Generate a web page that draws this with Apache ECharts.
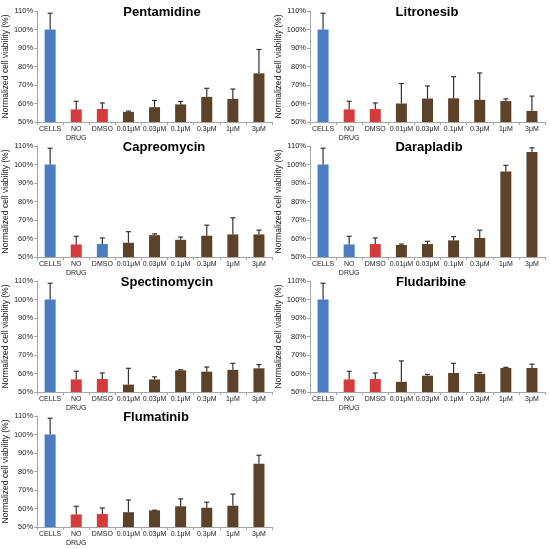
<!DOCTYPE html>
<html>
<head>
<meta charset="utf-8">
<script src="https://cdn.jsdelivr.net/npm/echarts@6/dist/echarts.min.js"></script>
<style>
html,body{margin:0;padding:0;background:#fff;}
#c{width:550px;height:549px;}
</style>
</head>
<body>
<div id="c"></div>
<script>
// ---------- data ----------
var categories = ['CELLS', 'NO\nDRUG', 'DMSO', '0.01μM', '0.03μM', '0.1μM', '0.3μM', '1μM', '3μM'];
var yTicks = [50, 60, 70, 80, 90, 100, 110];

var panelNames = ['Pentamidine', 'Litronesib', 'Capreomycin', 'Darapladib', 'Spectinomycin', 'Fludaribine', 'Flumatinib'];

// mean values (%)
var pentamidineMean   = [100, 56.8, 57.0, 55.5, 58.0, 59.5, 63.6, 62.5, 76.3];
var litronesibMean    = [100, 56.8, 57.0, 60.0, 62.7, 62.8, 62.0, 61.3, 56.0];
var capreomycinMean   = [100, 56.8, 57.0, 57.7, 61.8, 59.3, 61.5, 62.2, 62.2];
var darapladibMean    = [100, 56.8, 57.0, 56.5, 57.0, 59.0, 60.3, 96.2, 106.8];
var spectinomycinMean = [100, 56.8, 57.0, 54.0, 56.8, 61.7, 61.0, 62.0, 62.8];
var fludaribineMean   = [100, 56.8, 57.0, 55.5, 58.8, 60.3, 59.8, 63.0, 63.0];
var flumatinibMean    = [100, 56.8, 57.0, 58.0, 59.0, 61.2, 60.4, 61.5, 84.2];

// top of error bar (%)
var pentamidineErrTop   = [108.8, 61.2, 60.3, 55.9, 61.6, 61.1, 68.2, 67.8, 89.2];
var litronesibErrTop    = [108.8, 61.2, 60.3, 70.8, 69.5, 74.5, 76.5, 62.5, 64.0];
var capreomycinErrTop   = [108.8, 61.2, 60.3, 63.7, 62.5, 60.8, 67.2, 71.2, 64.5];
var darapladibErrTop    = [108.8, 61.2, 60.3, 57.0, 58.5, 61.0, 64.5, 99.5, 109.0];
var spectinomycinErrTop = [108.8, 61.2, 60.3, 62.8, 58.2, 62.0, 63.5, 65.5, 64.8];
var fludaribineErrTop   = [108.8, 61.2, 60.3, 66.8, 59.5, 65.5, 60.5, 63.3, 65.0];
var flumatinibErrTop    = [108.8, 61.2, 60.3, 64.6, 59.1, 65.2, 63.4, 67.8, 88.8];

// bar group per category (C = cells group, N = no drug group, D = drug)
var pentamidineGroups   = ['C','N','N','D','D','D','D','D','D'];
var litronesibGroups    = ['C','N','N','D','D','D','D','D','D'];
var capreomycinGroups   = ['C','N','C','D','D','D','D','D','D'];
var darapladibGroups    = ['C','C','N','D','D','D','D','D','D'];
var spectinomycinGroups = ['C','N','N','D','D','D','D','D','D'];
var fludaribineGroups   = ['C','N','N','D','D','D','D','D','D'];
var flumatinibGroups    = ['C','N','N','D','D','D','D','D','D'];

var means   = [pentamidineMean, litronesibMean, capreomycinMean, darapladibMean, spectinomycinMean, fludaribineMean, flumatinibMean];
var errTops = [pentamidineErrTop, litronesibErrTop, capreomycinErrTop, darapladibErrTop, spectinomycinErrTop, fludaribineErrTop, flumatinibErrTop];
var groups  = [pentamidineGroups, litronesibGroups, capreomycinGroups, darapladibGroups, spectinomycinGroups, fludaribineGroups, flumatinibGroups];

// ---------- styles / layout ----------
var groupColor = { C: '#4a7dc1', N: '#d43b3a', D: '#5d422a' };
var FONT = 'Liberation Sans, Arial, Helvetica, sans-serif';
var colLeft = [37, 310];
var plotWidth = 235;
var rowTop = [11, 146, 281, 416];
var plotHeight = 111;
var titleX = [157, 422, 159, 424, 162, 426, 151];

var grids = [], xAxes = [], yAxes = [], series = [], titles = [];

for (var p = 0; p < panelNames.length; p++) {
  var col = p % 2, row = Math.floor(p / 2);
  grids.push({ left: colLeft[col], top: rowTop[row], width: plotWidth, height: plotHeight, containLabel: false });
  titles.push({
    text: panelNames[p], left: titleX[p], top: rowTop[row] - 10, textAlign: 'center',
    textStyle: { fontFamily: FONT, fontSize: 13, fontWeight: 'bold', color: '#000' }
  });
  xAxes.push({
    type: 'category', gridIndex: p, data: categories, boundaryGap: true,
    axisLine: { show: true, lineStyle: { color: '#a6a6a6', width: 1 } },
    axisTick: { show: true, interval: 0, length: 3, lineStyle: { color: '#a6a6a6' } },
    axisLabel: { interval: 0, margin: 3, fontFamily: FONT, fontSize: 7, color: '#222', lineHeight: 8.5 }
  });
  yAxes.push({
    type: 'value', gridIndex: p, min: yTicks[0], max: yTicks[yTicks.length - 1], interval: 10,
    name: 'Normalized cell viability (%)', nameLocation: 'middle', nameGap: 24,
    nameTextStyle: { fontFamily: FONT, fontSize: 8.5, color: '#222' },
    axisLine: { show: true, lineStyle: { color: '#a6a6a6', width: 1 } },
    axisTick: { show: true, length: 3, lineStyle: { color: '#a6a6a6' } },
    splitLine: { show: false },
    axisLabel: { formatter: '{value}%', margin: 4, fontFamily: FONT, fontSize: 7.5, color: '#222' }
  });
  var barData = means[p].map(function (v, i) {
    return { value: v, itemStyle: { color: groupColor[groups[p][i]] } };
  });
  series.push({
    type: 'bar', xAxisIndex: p, yAxisIndex: p, data: barData, barWidth: 11,
    animation: false, silent: true
  });
  var errData = means[p].map(function (v, i) { return [i, v, errTops[p][i]]; });
  series.push({
    type: 'custom', xAxisIndex: p, yAxisIndex: p, data: errData, animation: false, silent: true,
    encode: { x: 0, y: [1, 2] }, z: 5,
    renderItem: function (params, api) {
      var base = api.coord([api.value(0), api.value(1)]);
      var top = api.coord([api.value(0), api.value(2)]);
      var half = 2.5;
      var st = { stroke: '#333', lineWidth: 1.2, fill: null };
      return {
        type: 'group',
        children: [
          { type: 'line', shape: { x1: base[0], y1: base[1], x2: top[0], y2: top[1] }, style: st },
          { type: 'line', shape: { x1: top[0] - half, y1: top[1], x2: top[0] + half, y2: top[1] }, style: st }
        ]
      };
    }
  });
}

var chart = echarts.init(document.getElementById('c'), null, { renderer: 'canvas' });
chart.setOption({
  backgroundColor: '#fff',
  animation: false,
  title: titles,
  grid: grids,
  xAxis: xAxes,
  yAxis: yAxes,
  series: series
});
</script>
</body>
</html>
